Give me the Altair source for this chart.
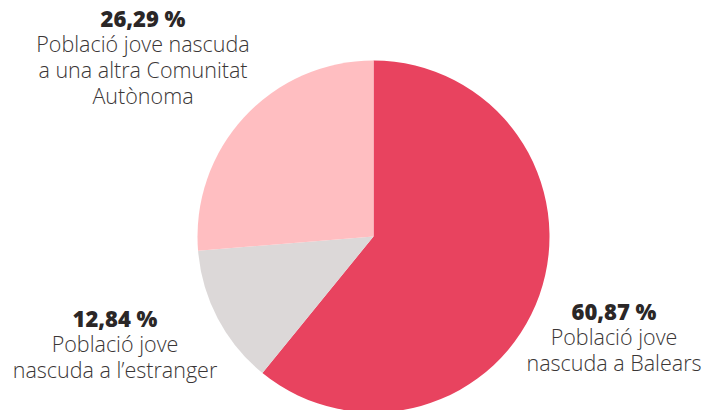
import altair as alt
import pandas as pd

categories = ["Població jove nascuda a Balears", "Població jove nascuda a l'estranger",
              "Població jove nascuda a una altra Comunitat Autònoma"]
values = [60.87, 12.84, 26.29]
pct_labels = ["60,87 %", "12,84 %", "26,29 %"]
desc_labels = ["Població jove\nnascuda a Balears",
               "Població jove\nnascuda a l\u2019estranger",
               "Població jove nascuda\na una altra Comunitat\nAutònoma"]
colors = ["#E8435F", "#DCD8D8", "#FFBEC1"]

df = pd.DataFrame({"cat": categories, "value": values, "order": [0, 1, 2]})

cx, cy, R = 365.5, 228.5, 176

pie = alt.Chart(df).mark_arc(radius=R, stroke=None).encode(
    theta=alt.Theta("value:Q", stack=True),
    order=alt.Order("order:Q"),
    color=alt.Color("cat:N", scale=alt.Scale(domain=categories, range=colors), legend=None),
    x=alt.value(cx), y=alt.value(cy),
)

# label anchor positions (chart coordinates)
lab_pos = [(606, 305), (107, 312), (135, 12)]

layers = [pie]
for i in range(3):
    px, py = lab_pos[i]
    ldf = pd.DataFrame({"p": [pct_labels[i]], "d": [desc_labels[i]]})
    layers.append(alt.Chart(ldf).mark_text(font="Open Sans", fontSize=22, fontWeight=800,
                                            color="#2B2727", align="center", baseline="middle").encode(
        text="p:N", x=alt.value(px), y=alt.value(py)))
    layers.append(alt.Chart(ldf).mark_text(font="Open Sans", fontSize=21.5, fontWeight=300,
                                            color="#3A3636",
                                            align="center", baseline="middle", lineBreak="\n",
                                            lineHeight=26).encode(
        text="d:N", x=alt.value(px), y=alt.value(py + 26)))

chart = alt.layer(*layers).properties(width=694, height=402, padding=0,
                                      autosize=alt.AutoSizeParams(type="none")).configure_view(stroke=None)
chart.save("out.html", embed_options={"renderer": "svg", "actions": False})
